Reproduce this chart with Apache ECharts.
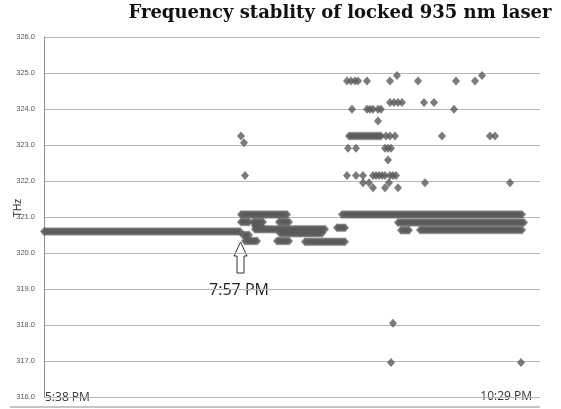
<!DOCTYPE html>
<html>
<head>
<meta charset="utf-8">
<script src="https://cdn.jsdelivr.net/npm/echarts@6/dist/echarts.min.js"></script>
<style>
  html, body { margin: 0; padding: 0; background: #fff; }
  #chart { width: 561px; height: 409px; }
</style>
</head>
<body>
<div id="chart"></div>
<script>
// x = sample position along the record (0 = 5:38 PM, 496 = 10:29 PM)
// dense stretches of samples at one level: [start, end, THz]
var runs = [
    [0, 196, 320.60],
    [197, 244, 321.07],
    [197, 206, 320.86], [209, 219, 320.86], [235, 245, 320.86],
    [199, 206, 320.50], [211, 218, 320.75],
    [211, 281, 320.66],
    [236, 279, 320.55],
    [201, 214, 320.33], [233, 246, 320.33], [261, 301, 320.31],
    [293, 301, 320.70],
    [298, 479, 321.07],
    [354, 481, 320.85],
    [357, 366, 320.63], [376, 479, 320.64],
    [305, 338, 323.25]
];
// single samples: [x, THz]
var points = [
    [197, 323.25], [200, 323.06], [201, 322.15],
    [303, 324.78], [307, 324.78], [311, 324.78], [314, 324.78], [323, 324.78],
    [346, 324.78], [374, 324.78], [412, 324.78], [431, 324.78],
    [353, 324.93], [438, 324.93],
    [346, 324.18], [350, 324.18], [354, 324.18], [358, 324.18], [380, 324.18], [390, 324.18],
    [308, 323.99], [323, 323.99], [326, 323.99], [329, 323.99], [334, 323.99], [337, 323.99], [410, 323.99],
    [334, 323.67],
    [342, 323.25], [346, 323.25], [351, 323.25], [398, 323.25], [446, 323.25], [451, 323.25],
    [304, 322.91], [312, 322.91], [341, 322.91], [344, 322.91], [347, 322.91],
    [344, 322.58],
    [303, 322.15], [312, 322.15], [319, 322.15], [329, 322.15], [332, 322.15], [335, 322.15],
    [338, 322.15], [341, 322.15], [346, 322.15], [349, 322.15], [352, 322.15],
    [319, 321.95], [325, 321.95], [345, 321.95], [381, 321.95], [466, 321.95],
    [329, 321.81], [341, 321.81], [354, 321.81],
    [349, 318.05],
    [347, 316.96], [477, 316.96]
];
var yTicks = [316, 317, 318, 319, 320, 321, 322, 323, 324, 325, 326];
var timeLabels = ['5:38 PM', '10:29 PM'];
var markLabel = '7:57 PM';

var data = [];
runs.forEach(function (r) {
    for (var x = r[0]; x <= r[1]; x += 2) data.push([x, r[2]]);
});
points.forEach(function (p) { data.push(p); });

var chart = echarts.init(document.getElementById('chart'));
chart.setOption({
    animation: false,
    grid: { left: 44, right: 21, top: 37, bottom: 12 },
    xAxis: {
        type: 'value', min: 0, max: 496,
        axisLine: { show: false }, axisTick: { show: false },
        axisLabel: { show: false }, splitLine: { show: false }
    },
    yAxis: {
        type: 'value', min: yTicks[0], max: yTicks[yTicks.length - 1], interval: 1,
        axisLine: { show: true, lineStyle: { color: '#8c8c8c' } },
        axisTick: { show: false },
        axisLabel: {
            fontSize: 7.5, color: '#555', margin: 9, fontFamily: 'Liberation Sans',
            formatter: function (v) { return v.toFixed(1); }
        },
        splitLine: { lineStyle: { color: '#b5b5b5' } }
    },
    series: [{
        type: 'scatter',
        data: data,
        symbol: 'diamond',
        symbolSize: [8, 9],
        itemStyle: { color: '#5a5a5a' }
    }],
    graphic: [
        {
            type: 'text', x: 340, y: 4,
            style: {
                text: 'Frequency stablity of locked 935 nm laser',
                font: 'bold 18px "DejaVu Serif"', fill: '#111', align: 'center'
            }
        },
        {
            type: 'text', x: 18, y: 208, rotation: Math.PI / 2,
            style: { text: 'THz', font: '10px "Liberation Sans"', fill: '#333',
                     align: 'center', verticalAlign: 'middle' }
        },
        {
            type: 'text', x: 45, y: 398,
            style: { text: timeLabels[0], font: '12px "Open Sans"', fill: '#333',
                     verticalAlign: 'middle' }
        },
        {
            type: 'text', x: 532, y: 397,
            style: { text: timeLabels[1], font: '12px "Open Sans"', fill: '#333',
                     align: 'right', verticalAlign: 'middle' }
        },
        {
            type: 'text', x: 239, y: 290,
            style: { text: markLabel, font: '16px "Open Sans"', fill: '#222',
                     align: 'center', verticalAlign: 'middle' }
        },
        {
            type: 'polygon',
            shape: { points: [[240.5, 242], [247, 256], [244, 256], [244, 273],
                              [237, 273], [237, 256], [234, 256]] },
            style: { fill: '#fff', stroke: '#333', lineWidth: 1 }
        },
        {
            type: 'line',
            shape: { x1: 10, y1: 407, x2: 540, y2: 407 },
            style: { stroke: '#8c8c8c', lineWidth: 1 }
        }
    ]
});
</script>
</body>
</html>
